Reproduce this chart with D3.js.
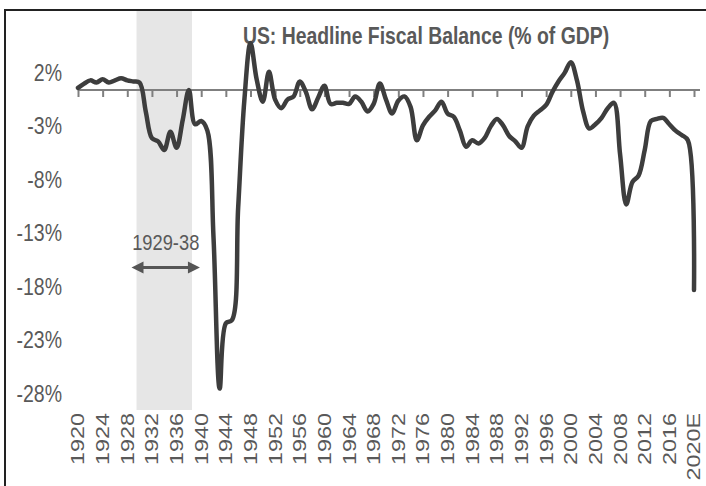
<!DOCTYPE html>
<html><head><meta charset="utf-8">
<script src="https://cdn.jsdelivr.net/npm/d3@7"></script>
<style>
html,body{margin:0;padding:0;background:#fff;}
svg{display:block;font-family:"Liberation Sans",Arial,sans-serif;}
</style>
</head><body>
<svg id="c" width="706" height="486"></svg>
<script>
// ---- data ----
const title = "US: Headline Fiscal Balance (% of GDP)";
const years = d3.range(1920, 2021);
const balance = [
  0.2, 0.6, 0.9, 0.7, 1.0, 0.7, 0.9, 1.1, 0.9, 0.8,        // 1920-29
  0.7, -2.0, -4.5, -4.8, -5.6, -3.9, -5.4, -2.8, 0.0, -3.2, // 1930-39
  -2.9, -3.8, -13.8, -27.9, -21.8, -21.5, -11.0, -1.0, 4.4, 1.0, // 1940-49
  -1.1, 1.7, -0.9, -1.7, -0.9, -0.6, 0.8, -0.2, -1.8, -0.7, // 1950-59
  0.4, -1.3, -1.2, -1.2, -1.3, -0.6, -1.1, -2.0, -1.3, 0.6, // 1960-69
  -0.9, -2.2, -1.0, -0.6, -1.6, -4.7, -3.3, -2.5, -1.9, -1.1, // 1970-79
  -2.2, -2.5, -3.8, -5.3, -4.7, -5.0, -4.5, -3.4, -2.7, -3.3, // 1980-89
  -4.3, -4.8, -5.4, -3.4, -2.4, -1.9, -1.4, -0.2, 0.8, 1.6, // 1990-99
  2.6, 0.9, -2.0, -3.6, -3.2, -2.6, -1.7, -1.2, -6.0, -10.7, // 2000-09
  -8.6, -8.0, -5.6, -2.9, -2.7, -2.6, -3.2, -3.8, -4.2, -4.7, // 2010-19
  -18.7                                                       // 2020E
];
const tickYears = [1920,1924,1928,1932,1936,1940,1944,1948,1952,1956,1960,1964,1968,
                   1972,1976,1980,1984,1988,1992,1996,2000,2004,2008,2012,2016,2020];
const tickLabels = ["1920","1924","1928","1932","1936","1940","1944","1948","1952","1956",
                    "1960","1964","1968","1972","1976","1980","1984","1988","1992","1996",
                    "2000","2004","2008","2012","2016","2020E"];
const yTicks = [2, -3, -8, -13, -18, -23, -28];
const shadePeriod = [1929, 1938];
const shadeLabel = "1929-38";

// ---- chart ----
const svg = d3.select("#c");
const x = d3.scaleLinear().domain([1920, 2020]).range([78, 694]);
const y = d3.scaleLinear().domain([-28, 2]).range([389.6, 68.6]);
const textCol = "#595959";
const stretch = 1.25;

// shading band
svg.append("rect")
  .attr("x", x(shadePeriod[0] + 0.5))
  .attr("width", x(shadePeriod[1] + 0.5) - x(shadePeriod[0] + 0.5))
  .attr("y", 11).attr("height", 410 - 11)
  .attr("fill", "#e6e6e6");

// frame
svg.append("path").attr("d", "M5,486V10H706")
  .attr("fill", "none").attr("stroke", "#222").attr("stroke-width", 2);

// title
svg.append("text").attr("transform", `translate(426,44) scale(1,${stretch})`)
  .attr("text-anchor", "middle").attr("font-size", 19.4).attr("font-weight", "bold")
  .attr("fill", textCol).text(title);

// zero axis with ticks
const xAxis = d3.axisBottom(x).tickValues(tickYears).tickSize(7).tickSizeOuter(0).tickFormat("");
const gx = svg.append("g").attr("transform", `translate(0,${y(0)})`).call(xAxis);
gx.select(".domain").attr("d", `M${x(1920)},0H${x(2020) + 6}`)
  .attr("stroke", "#7f7f7f").attr("stroke-width", 2);
gx.selectAll(".tick line").attr("stroke", "#7f7f7f").attr("stroke-width", 2);

// x labels (bottom, rotated)
svg.append("g").selectAll("text").data(tickYears).join("text")
  .attr("transform", (d) => `translate(${x(d)},413) rotate(-90) scale(1.3,1)`)
  .attr("dy", "0.36em").attr("text-anchor", "end")
  .attr("font-size", 18).attr("fill", textCol)
  .text((d, i) => tickLabels[i]);

// y labels
svg.append("g").selectAll("text").data(yTicks).join("text")
  .attr("transform", (d) => `translate(62,${y(d) + 3.4}) scale(1,${stretch})`)
  .attr("dy", "0.36em")
  .attr("text-anchor", "end").attr("font-size", 19.5).attr("fill", textCol)
  .text((d) => d + "%");

// data line
const line = d3.line().x((d, i) => x(years[i])).y((d) => y(d))
  .curve(d3.curveCatmullRom.alpha(0.5));
svg.append("path").datum(balance).attr("d", line)
  .attr("fill", "none").attr("stroke", "#3d3d3d").attr("stroke-width", 4.5)
  .attr("stroke-linejoin", "round").attr("stroke-linecap", "round");

// period annotation
const ax0 = x(shadePeriod[0] + 0.5) - 5, ax1 = x(shadePeriod[1] + 0.5) + 8, ay = 267.5;
const ah = 12, aw = 6;
svg.append("line").attr("x1", ax0 + ah - 2).attr("x2", ax1 - ah + 2).attr("y1", ay).attr("y2", ay)
  .attr("stroke", "#555").attr("stroke-width", 3);
svg.append("path").attr("d", `M${ax0},${ay}L${ax0 + ah},${ay - aw}L${ax0 + ah},${ay + aw}Z`).attr("fill", "#555");
svg.append("path").attr("d", `M${ax1},${ay}L${ax1 - ah},${ay - aw}L${ax1 - ah},${ay + aw}Z`).attr("fill", "#555");
svg.append("text").attr("transform", `translate(${(ax0 + ax1) / 2},250) scale(1,${stretch})`)
  .attr("text-anchor", "middle").attr("font-size", 18.3).attr("fill", textCol)
  .text(shadeLabel);
</script>
</body></html>
